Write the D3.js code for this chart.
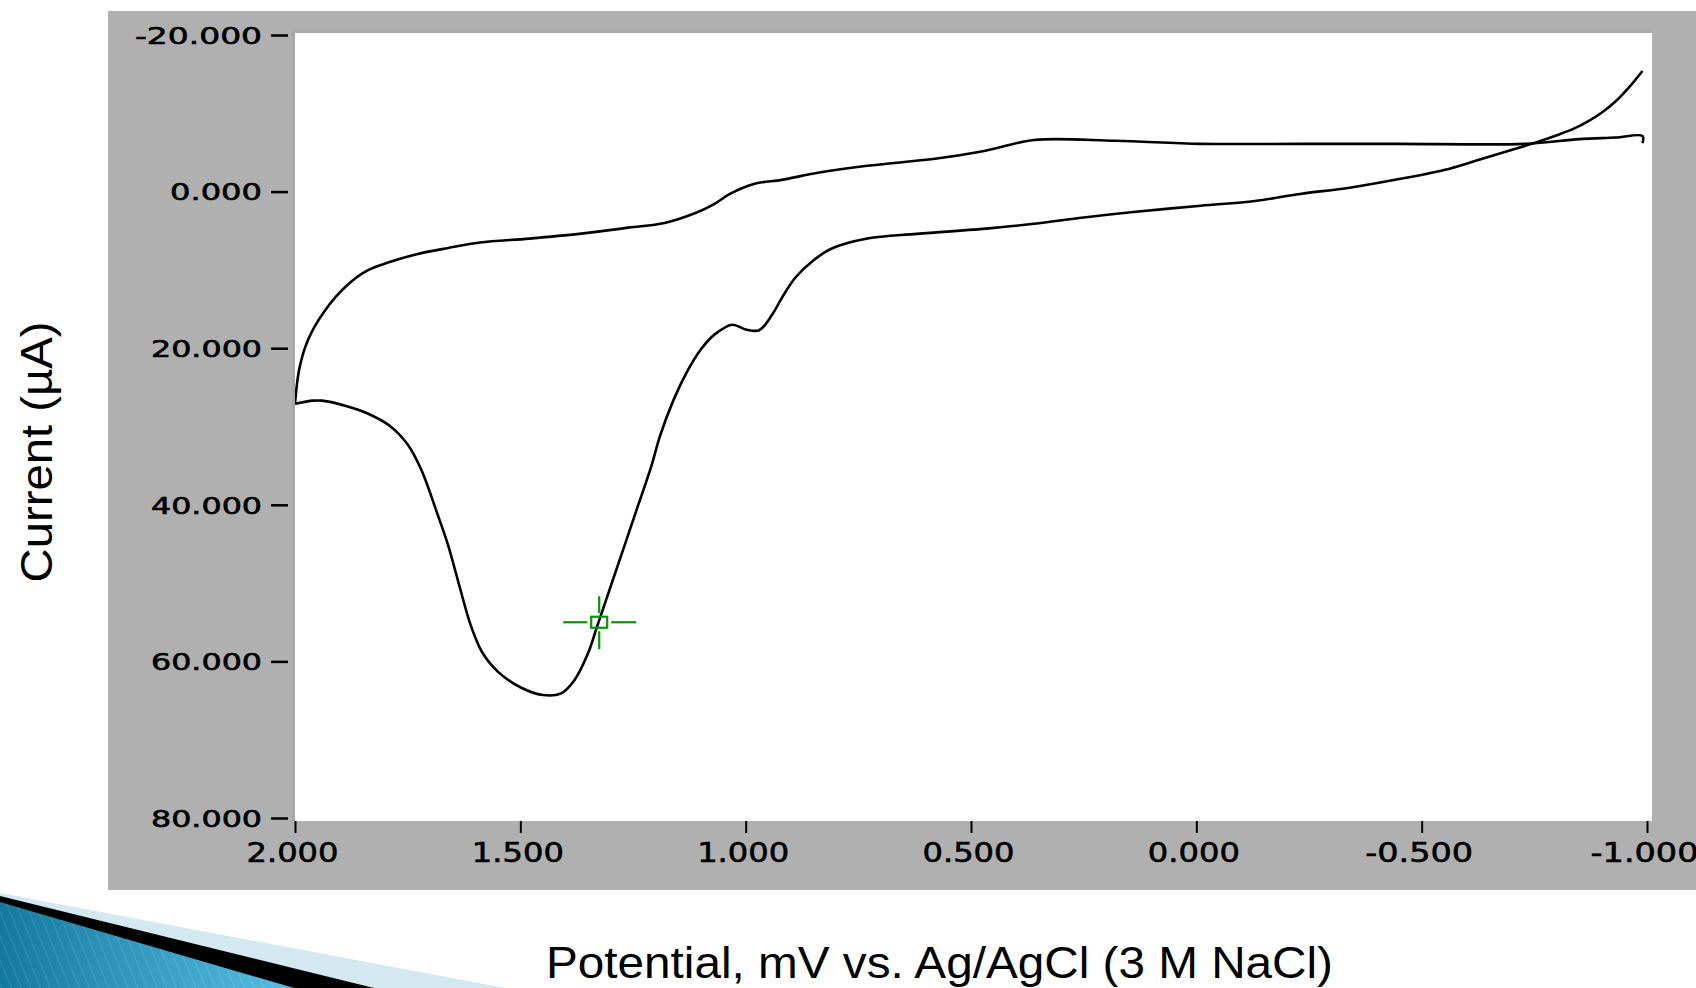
<!DOCTYPE html>
<html>
<head>
<meta charset="utf-8">
<script src="https://cdn.jsdelivr.net/npm/d3@7"></script>
<style>
  html, body { margin: 0; padding: 0; background: #fff; }
  svg { display: block; }
</style>
</head>
<body>
<div id="chart"></div>
<script>
// Cyclic voltammogram, values
// potential in V, current in µA (positive = down, as in the instrument plot)

// scan from -1.0 V up to 2.0 V (the one with the big peak)
const forwardScan = [
  [-0.99, -15.4], [-0.96, -13.3], [-0.93, -11.5], [-0.90, -10.1], [-0.87, -9.0],
  [-0.84, -8.1], [-0.80, -7.2], [-0.76, -6.4], [-0.71, -5.5], [-0.64, -4.3],
  [-0.56, -2.9], [-0.45, -1.6], [-0.34, -0.5], [-0.23, 0.3], [-0.13, 1.2],
  [-0.01, 1.8], [0.14, 2.6], [0.25, 3.3], [0.36, 4.1], [0.46, 4.7],
  [0.62, 5.4], [0.73, 6.0], [0.81, 7.3], [0.85, 8.8], [0.89, 11.0],
  [0.92, 13.6], [0.94, 15.6], [0.97, 17.7], [1.00, 17.6], [1.03, 17.0],
  [1.07, 18.3], [1.10, 20.2], [1.13, 23.0], [1.16, 26.6], [1.19, 31.2],
  [1.21, 35.2], [1.24, 40.3], [1.27, 45.4], [1.30, 50.5], [1.33, 55.6],
  [1.35, 59.0], [1.38, 62.4], [1.41, 64.1], [1.45, 64.3], [1.50, 63.3],
  [1.55, 61.3], [1.585, 58.8], [1.61, 55.4], [1.635, 50.4], [1.66, 45.2],
  [1.685, 41.0], [1.72, 35.5], [1.75, 32.3], [1.79, 29.9], [1.84, 28.3],
  [1.885, 27.4], [1.94, 26.7], [1.96, 26.7], [2.00, 27.1]
];

// return scan from 2.0 V back to -1.0 V
const reverseScan = [
  [2.00, 27.1], [1.99, 22.5], [1.97, 18.8], [1.935, 15.3], [1.885, 12.0],
  [1.84, 10.1], [1.79, 9.0], [1.73, 8.0], [1.66, 7.2], [1.59, 6.5],
  [1.48, 6.0], [1.37, 5.4], [1.26, 4.6], [1.18, 4.0], [1.11, 2.7],
  [1.07, 1.6], [1.035, 0.3], [0.98, -1.0], [0.92, -1.5], [0.84, -2.4],
  [0.73, -3.3], [0.58, -4.2], [0.48, -5.1], [0.44, -5.6], [0.36, -6.6],
  [0.18, -6.5], [-0.01, -6.1], [-0.23, -6.1], [-0.45, -6.1], [-0.73, -6.1],
  [-0.85, -6.7], [-0.93, -6.9], [-0.99, -7.1], [-0.99, -6.2]
];

const cursorPoint = [1.325, 55.0];

const xTicks = [2.0, 1.5, 1.0, 0.5, 0.0, -0.5, -1.0];
const yTicks = [-20, 0, 20, 40, 60, 80];

const xTitle = "Potential, mV vs. Ag/AgCl (3 M NaCl)";
const yTitle = "Current (µA)";

const W = 1696, H = 988;

const svg = d3.select("#chart").append("svg")
    .attr("width", W)
    .attr("height", H);

const defs = svg.append("defs");

// gray instrument panel
svg.append("rect")
    .attr("x", 108).attr("y", 11)
    .attr("width", W - 108).attr("height", 879)
    .attr("fill", "#b0b0b0");

// plot frame: thin darker edge then white area
svg.append("rect")
    .attr("x", 292).attr("y", 30)
    .attr("width", 1360).attr("height", 791)
    .attr("fill", "#a7a7a7");
svg.append("rect")
    .attr("x", 295).attr("y", 33)
    .attr("width", 1357).attr("height", 788)
    .attr("fill", "#fff");

// scales
const x = d3.scaleLinear().domain([2, -1]).range([295, 1647]);
const y = d3.scaleLinear().domain([-20, 80]).range([35, 818]);

// bitmap-ish tick font: fixed advance per char
const charW = c => (c === "." || c === "-") ? 16 : 19;
const labelLen = s => s.split("").reduce((a, c) => a + charW(c), 0);
const fmt = d => d.toFixed(3);

// y axis
svg.append("g")
    .attr("transform", "translate(288,0)")
    .call(d3.axisLeft(y).tickValues(yTicks).tickFormat(fmt).tickSize(17).tickPadding(9))
    .call(g => {
        g.select(".domain").remove();
        g.selectAll(".tick line").attr("stroke", "#000").attr("stroke-width", 2.5);
        g.selectAll(".tick text")
            .attr("fill", "#000")
            .attr("dy", "0.36em")
            .style("font-family", "'DejaVu Sans', sans-serif")
            .style("font-size", "23px")
            .style("stroke", "#000")
            .style("stroke-width", 0.6)
            .attr("lengthAdjust", "spacingAndGlyphs")
            .attr("textLength", d => labelLen(fmt(d)));
    });

// x axis
svg.append("g")
    .attr("transform", "translate(0,821)")
    .call(d3.axisBottom(x).tickValues(xTicks).tickFormat(fmt).tickSize(12))
    .call(g => {
        g.select(".domain").remove();
        g.selectAll(".tick line").attr("stroke", "#000").attr("stroke-width", 2);
        g.selectAll(".tick text")
            .attr("fill", "#000")
            .attr("x", -3)
            .attr("y", 41)
            .attr("dy", 0)
            .style("font-family", "'DejaVu Sans', sans-serif")
            .style("font-size", "27px")
            .style("stroke", "#000")
            .style("stroke-width", 0.6)
            .attr("lengthAdjust", "spacingAndGlyphs")
            .attr("textLength", d => labelLen(fmt(d)));
    });

// curves
const line = d3.line()
    .x(d => x(d[0]))
    .y(d => y(d[1]))
    .curve(d3.curveCatmullRom.alpha(0.5));

defs.append("clipPath").attr("id", "plotClip")
    .append("rect")
    .attr("x", 295).attr("y", 33).attr("width", 1357).attr("height", 788);

const plot = svg.append("g").attr("clip-path", "url(#plotClip)");

[forwardScan, reverseScan].forEach(scan => {
    plot.append("path")
        .datum(scan)
        .attr("d", line)
        .attr("fill", "none")
        .attr("stroke", "#000")
        .attr("stroke-width", 2.6)
        .attr("stroke-linejoin", "round");
});

// green cursor
const cx = x(cursorPoint[0]), cy = y(cursorPoint[1]);
const cursor = plot.append("g")
    .attr("transform", `translate(${cx},${cy})`)
    .attr("stroke", "#009900")
    .attr("stroke-width", 2.2)
    .attr("fill", "none");
cursor.append("rect").attr("x", -8).attr("y", -5.5).attr("width", 16).attr("height", 11);
[[-36, 0, -12, 0], [12, 0, 37, 0], [0, -26, 0, -9], [0, 9, 0, 27]].forEach(s => {
    cursor.append("line")
        .attr("x1", s[0]).attr("y1", s[1])
        .attr("x2", s[2]).attr("y2", s[3]);
});

// axis titles
svg.append("text")
    .attr("x", 546).attr("y", 978)
    .attr("textLength", 787)
    .attr("lengthAdjust", "spacingAndGlyphs")
    .style("font-family", "'Liberation Sans', Arial, sans-serif")
    .style("font-size", "44px")
    .attr("fill", "#000")
    .text(xTitle);

svg.append("text")
    .attr("transform", "translate(52,452) rotate(-90)")
    .attr("text-anchor", "middle")
    .attr("textLength", 261)
    .attr("lengthAdjust", "spacingAndGlyphs")
    .style("font-family", "'Liberation Sans', Arial, sans-serif")
    .style("font-size", "44px")
    .attr("fill", "#000")
    .text(yTitle);

// slide template swoosh, bottom left
const grad = defs.append("linearGradient").attr("id", "swooshBlue")
    .attr("x1", "0%").attr("x2", "100%").attr("y1", "0%").attr("y2", "0%");
grad.append("stop").attr("offset", "0%").attr("stop-color", "#137a9e");
grad.append("stop").attr("offset", "100%").attr("stop-color", "#58bde3");

const stripes = defs.append("pattern").attr("id", "swooshStripes")
    .attr("patternUnits", "userSpaceOnUse")
    .attr("width", 9).attr("height", 9)
    .attr("patternTransform", "rotate(-22)");
stripes.append("line")
    .attr("x1", 0).attr("y1", 0).attr("x2", 0).attr("y2", 9)
    .attr("stroke", "#ffffff").attr("stroke-opacity", 0.12).attr("stroke-width", 2);

svg.append("polygon")
    .attr("points", "0,893 505,988 0,988")
    .attr("fill", "#d4e8f1");
svg.append("polygon")
    .attr("points", "0,896 374,988 0,988")
    .attr("fill", "#000");
svg.append("polygon")
    .attr("points", "0,902 294,988 0,988")
    .attr("fill", "url(#swooshBlue)");
svg.append("polygon")
    .attr("points", "0,902 294,988 0,988")
    .attr("fill", "url(#swooshStripes)");
</script>
</body>
</html>
